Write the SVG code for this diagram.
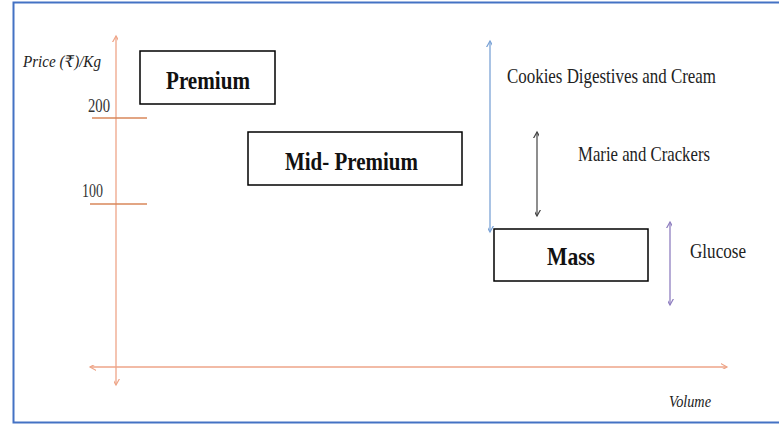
<svg xmlns="http://www.w3.org/2000/svg" width="779" height="425" viewBox="0 0 779 425">
<defs>
<style>
.box{fill:#fff;stroke:#000;stroke-width:1.5}
.bt{font-family:"Liberation Serif","Times New Roman",serif;font-weight:bold;font-size:26px;fill:#111}
.lt{font-family:"Liberation Serif","Times New Roman",serif;font-size:21px;fill:#222}
.it{font-family:"Liberation Serif","Times New Roman","DejaVu Serif",serif;font-style:italic;font-size:16px;fill:#222}
.nt{font-family:"Liberation Serif","Times New Roman",serif;font-size:18px;fill:#333}
.axis{stroke:#eea588;stroke-width:1.3;fill:none}
.tick{stroke:#d9875a;stroke-width:1.5}
</style>
<marker id="ao" viewBox="-6 -10 12 12" markerWidth="12" markerHeight="12" refX="0" refY="0" orient="auto-start-reverse" markerUnits="userSpaceOnUse"><path d="M-5,-9 L0,0 L5,-9" transform="rotate(-90)" fill="none" stroke="#eea588" stroke-width="1.2"/></marker>
<marker id="ab" viewBox="-6 -10 12 12" markerWidth="12" markerHeight="12" refX="0" refY="0" orient="auto-start-reverse" markerUnits="userSpaceOnUse"><path d="M-5,-9 L0,0 L5,-9" transform="rotate(-90)" fill="none" stroke="#7ba3d6" stroke-width="1.2"/></marker>
<marker id="ag" viewBox="-6 -10 12 12" markerWidth="12" markerHeight="12" refX="0" refY="0" orient="auto-start-reverse" markerUnits="userSpaceOnUse"><path d="M-5,-9 L0,0 L5,-9" transform="rotate(-90)" fill="none" stroke="#444" stroke-width="1.2"/></marker>
<marker id="ap" viewBox="-6 -10 12 12" markerWidth="12" markerHeight="12" refX="0" refY="0" orient="auto-start-reverse" markerUnits="userSpaceOnUse"><path d="M-5,-9 L0,0 L5,-9" transform="rotate(-90)" fill="none" stroke="#8f7fc0" stroke-width="1.2"/></marker>
</defs>
<rect width="779" height="425" fill="#fff"/>
<path d="M781,2.5 L13.5,2.5 L13.5,422.5 L781,422.5" fill="none" stroke="#4472c4" stroke-width="2"/>
<g id="connectors">
<line class="axis" x1="116" y1="36" x2="116" y2="385" marker-start="url(#ao)" marker-end="url(#ao)"/>
<line class="axis" x1="90" y1="367" x2="727" y2="367" marker-start="url(#ao)" marker-end="url(#ao)"/>
<line class="tick" x1="92" y1="118" x2="147" y2="118"/>
<line class="tick" x1="90" y1="204" x2="147" y2="204"/>
<line x1="490" y1="41" x2="490" y2="232" stroke="#7ba3d6" stroke-width="1.3" marker-start="url(#ab)" marker-end="url(#ab)"/>
<line x1="537" y1="132" x2="537" y2="216" stroke="#444" stroke-width="1.2" marker-start="url(#ag)" marker-end="url(#ag)"/>
<line x1="670" y1="222" x2="670" y2="305" stroke="#8f7fc0" stroke-width="1.3" marker-start="url(#ap)" marker-end="url(#ap)"/>
</g>
<g id="axis-labels">
<text class="it" x="23" y="67" textLength="78" lengthAdjust="spacingAndGlyphs">Price (₹)/Kg</text>
<text class="nt" x="88" y="112" textLength="22" lengthAdjust="spacingAndGlyphs">200</text>
<text class="nt" x="82" y="197" textLength="21" lengthAdjust="spacingAndGlyphs">100</text>
<text class="it" x="669" y="407" textLength="42" lengthAdjust="spacingAndGlyphs">Volume</text>
</g>
<g id="premium">
<rect class="box" x="140" y="51" width="135" height="53"/>
<text class="bt" x="166" y="89" textLength="84" lengthAdjust="spacingAndGlyphs">Premium</text>
</g>
<g id="mid-premium">
<rect class="box" x="248" y="132" width="214" height="53"/>
<text class="bt" x="285" y="170" textLength="133" lengthAdjust="spacingAndGlyphs">Mid- Premium</text>
</g>
<g id="mass">
<rect class="box" x="494" y="229" width="154" height="52"/>
<text class="bt" x="547" y="265" textLength="48" lengthAdjust="spacingAndGlyphs">Mass</text>
</g>
<g id="cookies">
<text class="lt" x="507" y="83" textLength="209" lengthAdjust="spacingAndGlyphs">Cookies Digestives and Cream</text>
</g>
<g id="marie">
<text class="lt" x="578" y="161" textLength="132" lengthAdjust="spacingAndGlyphs">Marie and Crackers</text>
</g>
<g id="glucose">
<text class="lt" x="690" y="258" textLength="56" lengthAdjust="spacingAndGlyphs">Glucose</text>
</g>
</svg>
